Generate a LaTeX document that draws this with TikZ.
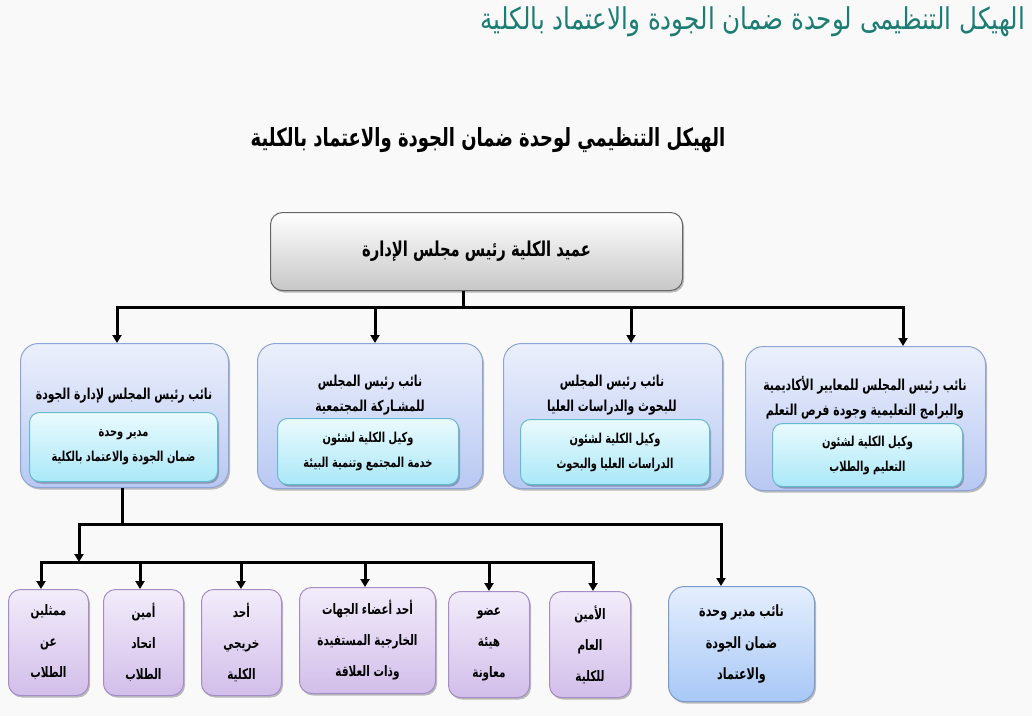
\documentclass[tikz,border=0pt]{standalone}
\usepackage{fontspec}
\newfontfamily\arabicnarrow[Script=Arabic,FakeStretch=0.82]{DejaVu Sans}
\newfontfamily\arabiccond[Script=Arabic,FakeStretch=0.72]{DejaVu Sans}
\TeXXeTstate=1
\usetikzlibrary{arrows.meta,shadows}
\newcommand\AR[1]{\beginR #1\endR}
\definecolor{bgc}{RGB}{249,249,249}
\definecolor{teal1}{RGB}{27,125,115}
\definecolor{blueTop}{RGB}{236,240,252}
\definecolor{blueBot}{RGB}{184,200,242}
\definecolor{blueEdge}{RGB}{140,164,214}
\definecolor{cyanTop}{RGB}{234,250,253}
\definecolor{cyanBot}{RGB}{170,232,248}
\definecolor{cyanEdge}{RGB}{100,186,206}
\definecolor{purTop}{RGB}{242,236,250}
\definecolor{purBot}{RGB}{210,190,234}
\definecolor{purEdge}{RGB}{164,140,196}
\definecolor{sbTop}{RGB}{228,238,253}
\definecolor{sbBot}{RGB}{168,200,246}
\definecolor{sbEdge}{RGB}{120,156,208}
\tikzset{
  conn/.style={line width=3pt, black},
  arr/.style={conn, -{Triangle[length=8pt,width=9pt]}},
  shad/.style={drop shadow={shadow xshift=1.5pt, shadow yshift=-2pt, opacity=0.25, fill=black}},
  boxbase/.style={anchor=north west, inner sep=0pt, line width=1pt, shad},
  graybox/.style={boxbase, draw=black!60, rounded corners=12pt, top color=white, bottom color=black!22},
  bluebox/.style={boxbase, draw=blueEdge, rounded corners=18pt, top color=blueTop, bottom color=blueBot},
  cyanbox/.style={boxbase, draw=cyanEdge, rounded corners=10pt, top color=cyanTop, bottom color=cyanBot},
  purbox/.style={boxbase, draw=purEdge, rounded corners=12pt, top color=purTop, bottom color=purBot},
  sbbox/.style={boxbase, draw=sbEdge, rounded corners=16pt, top color=sbTop, bottom color=sbBot},
  ttl/.style={align=center, inner sep=0pt, font={\arabiccond\bfseries\fontsize{15.1pt}{25pt}\selectfont}},
  inn/.style={align=center, font={\arabiccond\bfseries\fontsize{13.7pt}{25pt}\selectfont}},
  txtb/.style={align=center, font={\arabiccond\bfseries\fontsize{14.5pt}{31pt}\selectfont}},
}
\begin{document}
\begin{tikzpicture}[x=1pt,y=-1pt]
\fill[bgc] (0,0) rectangle (1032,716);
\useasboundingbox (0,0) rectangle (1032,716);
% titles
\node[anchor=east, text=teal1, inner sep=0pt, font={\arabicnarrow\fontsize{30pt}{34pt}\selectfont}] (t1) at (1025,22) {\AR{الهيكل التنظيمى لوحدة ضمان الجودة والاعتماد بالكلية}};
\node[font={\arabiccond\bfseries\fontsize{25pt}{29pt}\selectfont}] (t2) at (488,140) {\AR{الهيكل التنظيمي لوحدة ضمان الجودة والاعتماد بالكلية}};
% top box
\node[graybox, minimum width=412pt, minimum height=78pt, font={\arabiccond\bfseries\fontsize{20.5pt}{24pt}\selectfont}] (dean) at (270,212) {\AR{عميد الكلية رئيس مجلس الإدارة}};
% middle boxes
\node[bluebox, minimum width=208pt, minimum height=144pt] (A) at (20,343) {};
\node[bluebox, minimum width=225pt, minimum height=145pt] (B) at (257,343) {};
\node[bluebox, minimum width=219pt, minimum height=145pt] (C) at (503,343) {};
\node[bluebox, minimum width=240pt, minimum height=144pt] (D) at (745,346) {};
\node[ttl] (At) at (124,396) {\AR{نائب رئيس المجلس لإدارة الجودة}};
\node[ttl] (Bt) at (370,395.5) {\AR{نائب رئيس المجلس}\\\AR{للمشـاركة المجتمعية}};
\node[ttl] (Ct) at (612,395.5) {\AR{نائب رئيس المجلس}\\\AR{للبحوث والدراسات العليا}};
\node[ttl] (Dt) at (865,398) {\AR{نائب رئيس المجلس للمعايير الأكاديمية}\\\AR{والبرامج التعليمية وجودة فرص التعلم}};
\node[cyanbox, inn, minimum width=188pt, minimum height=69pt] (Ai) at (29,412) {\AR{مدير وحدة}\\\AR{ضمان الجودة والاعتماد بالكلية}};
\node[cyanbox, inn, minimum width=181pt, minimum height=66pt] (Bi) at (277,418) {\AR{وكيل الكلية لشئون}\\\AR{خدمة المجتمع وتنمية البيئة}};
\node[cyanbox, inn, minimum width=189pt, minimum height=65pt] (Ci) at (520,419) {\AR{وكيل الكلية لشئون}\\\AR{الدراسات العليا والبحوث}};
\node[cyanbox, inn, minimum width=190pt, minimum height=63pt] (Di) at (772,423) {\AR{وكيل الكلية لشئون}\\\AR{التعليم والطلاب}};
% bottom boxes
\node[purbox, txtb, minimum width=80pt, minimum height=106pt] (p1) at (8,589) {\AR{ممثلين}\\\AR{عن}\\\AR{الطلاب}};
\node[purbox, txtb, minimum width=80pt, minimum height=106pt] (p2) at (103,589) {\AR{أمين}\\\AR{اتحاد}\\\AR{الطلاب}};
\node[purbox, txtb, minimum width=80pt, minimum height=106pt] (p3) at (201,589) {\AR{أحد}\\\AR{خريجي}\\\AR{الكلية}};
\node[purbox, txtb, minimum width=136pt, minimum height=106pt] (p4) at (299,587) {\AR{أحد أعضاء الجهات}\\\AR{الخارجية المستفيدة}\\\AR{وذات العلاقة}};
\node[purbox, txtb, minimum width=81pt, minimum height=106pt] (p5) at (448,591) {\AR{عضو}\\\AR{هيئة}\\\AR{معاونة}};
\node[purbox, txtb, minimum width=81pt, minimum height=106pt] (p6) at (549,591) {\AR{الأمين}\\\AR{العام}\\\AR{للكلية}};
\node[sbbox, txtb, font={\arabiccond\bfseries\fontsize{15.5pt}{31.5pt}\selectfont}, minimum width=146pt, minimum height=115pt] (p7) at (668,586) {\AR{نائب مدير وحدة}\\\AR{ضمان الجودة}\\\AR{والاعتماد}};
% connectors level 1
\coordinate (j0) at (463,307);
\coordinate (jA) at (117,307);
\coordinate (jB) at (375,307);
\coordinate (jC) at (631,307);
\coordinate (jD) at (903,307);
\draw[conn] (j0 |- dean.south) -- (j0);
\draw[conn, line cap=rect] (jA) -- (jD);
\draw[arr] (jA) -- (jA |- A.north);
\draw[arr] (jB) -- (jB |- B.north);
\draw[arr] (jC) -- (jC |- C.north);
\draw[arr] (jD) -- (jD |- D.north);
% connectors level 2
\coordinate (k0) at (122,524);
\coordinate (kL) at (79,524);
\coordinate (kR) at (721,524);
\draw[conn] (k0 |- A.south) -- (k0);
\draw[conn, line cap=rect] (kL) -- (kR);
\coordinate (m1) at (41,562);
\coordinate (m2) at (140,562);
\coordinate (m3) at (241,562);
\coordinate (m4) at (365,562);
\coordinate (m5) at (489,562);
\coordinate (m6) at (593,562);
\draw[arr] (kL) -- (kL |- m1);
\draw[arr] (kR) -- (kR |- p7.north);
\draw[conn, line cap=rect] (m1) -- (m6);
\draw[arr] (m1) -- (m1 |- p1.north);
\draw[arr] (m2) -- (m2 |- p2.north);
\draw[arr] (m3) -- (m3 |- p3.north);
\draw[arr] (m4) -- (m4 |- p4.north);
\draw[arr] (m5) -- (m5 |- p5.north);
\draw[arr] (m6) -- (m6 |- p6.north);
\end{tikzpicture}
\end{document}
